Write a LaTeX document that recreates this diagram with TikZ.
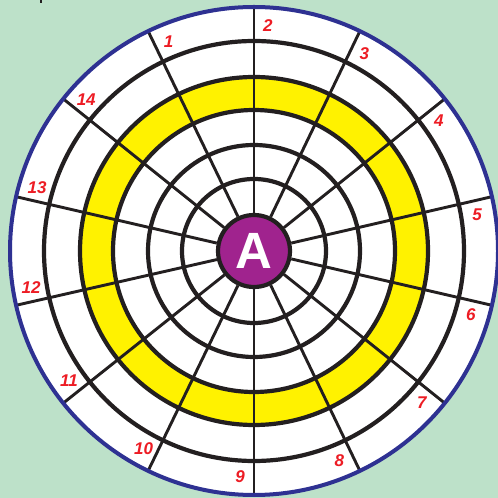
\documentclass[tikz,border=0pt]{standalone}
\usepackage{fontspec}
\setsansfont{Liberation Sans}
\usetikzlibrary{calc}
\definecolor{bggreen}{HTML}{BDE1C9}
\definecolor{ringyellow}{HTML}{FFF200}
\definecolor{rimblue}{HTML}{2E3192}
\definecolor{hubpurple}{HTML}{A0238E}
\definecolor{numred}{HTML}{ED1C24}
\definecolor{inkblack}{HTML}{231F20}
\tikzset{
  ringline/.style={draw=inkblack, line width=4.2pt},
  spokeline/.style={draw=inkblack, line width=2.9pt},
  rimline/.style={draw=rimblue, line width=4pt},
  numlabel/.style={text=numred, font=\sffamily\bfseries\itshape\fontsize{17}{17}\selectfont, inner sep=0pt},
  hub/.style={circle, fill=hubpurple, draw=inkblack, line width=4.2pt, minimum size=72pt, inner sep=0pt, text=white, font=\sffamily\bfseries\fontsize{51}{51}\selectfont}
}
\begin{document}
\begin{tikzpicture}[x=1pt,y=1pt]
\useasboundingbox (0,0) rectangle (498,498);
\fill[bggreen] (0,0) rectangle (498,498);
\fill[inkblack] (40,494.5) rectangle (41.8,498);
\coordinate (C) at (254,247);
\fill[white] (C) circle (244);
\fill[ringyellow, even odd rule] (C) circle (174) (C) circle (141);
\node[hub] (A) at (C) {\raisebox{-1pt}{A}};
\foreach \n in {1,...,14} {
  \pgfmathsetmacro{\ang}{90+(2-\n)*360/14}
  \draw[spokeline] (A.\ang) -- ($(C)+(\ang:244)$);
  \pgfmathsetmacro{\lang}{\ang-3.5}
  \node[numlabel] (n\n) at ($(C)+(\lang:226)$) {\n};
}
\foreach \r in {72,106,141,174,210}
  \draw[ringline] (C) circle (\r);
\draw[rimline] (C) circle (244);
\end{tikzpicture}
\end{document}
